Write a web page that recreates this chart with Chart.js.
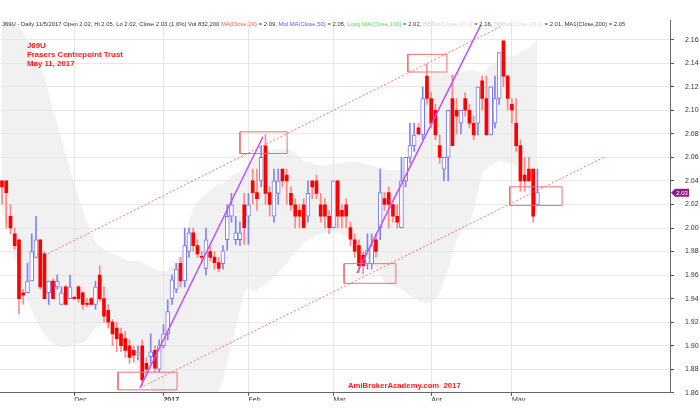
<!doctype html>
<html>
<head>
<meta charset="UTF-8">
<title>J69U</title>
<script src="https://cdn.jsdelivr.net/npm/chart.js@4.4.0/dist/chart.umd.min.js"></script>
<style>
  body { margin: 0; background: #fff; }
  canvas { display: block; }
</style>
</head>
<body>
<canvas id="chart" width="700" height="408"></canvas>
<script>
// bar 0 = 8 Nov 2016 ... bar 126 = 11 May 2017 (trading days only)
var monthTicks = [17, 38, 58, 78, 101, 120]
var monthLabels = ['Dec', '2017', 'Feb', 'Mar', 'Apr', 'May']
var priceTicks = [1.86, 1.88, 1.90, 1.92, 1.94, 1.96, 1.98, 2.00, 2.02, 2.04, 2.06, 2.08, 2.10, 2.12, 2.14, 2.16]

var opens = [2.04, 2.04, 2.01, 1.995, 1.99, 1.945, 1.945, 1.955, 1.975, 1.99,
  1.978, 1.945, 1.955, 1.95, 1.935, 1.95, 1.94, 1.941, 1.95, 1.945,
  1.936, 1.94, 1.935, 1.96, 1.94, 1.93, 1.92, 1.915, 1.91, 1.906,
  1.90, 1.896, 1.893, 1.90, 1.885, 1.8906, 1.896, 1.88, 1.90, 1.91,
  1.94, 1.948, 1.97, 1.955, 1.98, 1.996, 1.985, 1.976, 1.9656, 1.98,
  1.9753, 1.9706, 1.9697, 1.99, 2.01, 1.99, 1.99, 2.0197, 2.01, 2.04,
  2.03, 2.04, 2.0697, 2.03, 2.01, 2.0294, 2.05, 2.045, 2.0294, 2.0197,
  2.015, 2.0197, 2.01, 2.04, 2.04, 2.0197, 2.0197, 2.01, 2.0003, 2.04,
  2.015, 2.0197, 2.0003, 1.99, 1.985, 1.977, 1.9697, 1.9697, 1.99, 2.0003,
  2.025, 2.03, 2.02, 2.01, 2.0003, 2.04, 2.06, 2.07, 2.085, 2.079,
  2.129, 2.11, 2.10, 2.07, 2.05, 2.06, 2.11, 2.10, 2.089, 2.11,
  2.10, 2.089, 2.089, 2.125, 2.11, 2.079, 2.089, 2.11, 2.159, 2.129,
  2.105, 2.089, 2.07, 2.045, 2.05, 2.05, 2.02]
var highs = [2.04, 2.04, 2.02, 2.00, 1.99, 1.948, 1.97, 1.995, 2.01, 1.99,
  1.98, 1.955, 1.957, 1.96, 1.95, 1.951, 1.96, 1.942, 1.951, 1.946,
  1.94, 1.941, 1.955, 1.968, 1.95, 1.935, 1.922, 1.92, 1.915, 1.912,
  1.905, 1.90, 1.90, 1.905, 1.89, 1.91, 1.90, 1.905, 1.918, 1.939,
  1.96, 1.97, 1.975, 2.00, 2.00, 2.00, 1.99, 1.98, 2.00, 1.985,
  1.98, 1.975, 1.985, 2.0197, 2.0294, 2.01, 2.005, 2.0294, 2.0294, 2.05,
  2.05, 2.07, 2.0794, 2.035, 2.05, 2.05, 2.05, 2.05, 2.035, 2.025,
  2.02, 2.025, 2.04, 2.04, 2.045, 2.0294, 2.025, 2.015, 2.04, 2.04,
  2.02, 2.025, 2.005, 1.995, 1.99, 1.98, 1.995, 1.995, 1.995, 2.05,
  2.03, 2.035, 2.02, 2.02, 2.06, 2.06, 2.089, 2.089, 2.089, 2.12,
  2.139, 2.115, 2.105, 2.079, 2.06, 2.10, 2.13, 2.11, 2.10, 2.115,
  2.105, 2.095, 2.12, 2.129, 2.129, 2.12, 2.129, 2.149, 2.159, 2.13,
  2.11, 2.11, 2.075, 2.06, 2.06, 2.05, 2.05]
var lows = [2.02, 2.00, 1.995, 1.982, 1.927, 1.935, 1.945, 1.955, 1.975, 1.948,
  1.94, 1.935, 1.94, 1.948, 1.935, 1.935, 1.94, 1.939, 1.937, 1.931,
  1.933, 1.935, 1.931, 1.938, 1.92, 1.915, 1.90, 1.895, 1.895, 1.89,
  1.885, 1.886, 1.888, 1.866, 1.875, 1.885, 1.878, 1.878, 1.898, 1.905,
  1.935, 1.945, 1.95, 1.95, 1.975, 1.98, 1.975, 1.97, 1.96, 1.972,
  1.965, 1.963, 1.965, 1.981, 2.005, 1.986, 1.985, 1.986, 1.986, 2.02,
  2.015, 2.035, 2.02, 2.01, 2.005, 2.02, 2.035, 2.02, 2.015, 2.00,
  2.00, 2.00, 2.005, 2.025, 2.025, 2.005, 2.00, 1.995, 2.00, 2.00,
  2.00, 2.00, 1.985, 1.975, 1.962, 1.961, 1.965, 1.965, 1.975, 1.99,
  2.015, 2.00, 2.005, 2.00, 2.00, 2.035, 2.055, 2.065, 2.079, 2.075,
  2.105, 2.085, 2.075, 2.055, 2.04, 2.04, 2.07, 2.08, 2.08, 2.095,
  2.085, 2.075, 2.079, 2.10, 2.079, 2.079, 2.085, 2.105, 2.12, 2.10,
  2.089, 2.065, 2.031, 2.031, 2.04, 2.005, 2.02]
var closes = [2.035, 2.03, 2.00, 1.985, 1.94, 1.943, 1.955, 1.98, 1.99, 1.95,
  1.94, 1.955, 1.94, 1.955, 1.945, 1.935, 1.95, 1.94, 1.94, 1.935,
  1.935, 1.935, 1.95, 1.94, 1.925, 1.92, 1.91, 1.906, 1.90, 1.896,
  1.89, 1.892, 1.894, 1.871, 1.88, 1.8947, 1.881, 1.90, 1.91, 1.929,
  1.956, 1.965, 1.955, 1.985, 1.996, 1.985, 1.978, 1.975, 1.99, 1.975,
  1.9706, 1.9656, 1.9806, 2.01, 2.0197, 1.996, 1.996, 2.0003, 2.0197, 2.03,
  2.025, 2.06, 2.0294, 2.02, 2.04, 2.04, 2.04, 2.04, 2.0197, 2.01,
  2.01, 2.0003, 2.0294, 2.035, 2.0294, 2.01, 2.01, 2.0003, 2.04, 2.01,
  2.01, 2.01, 1.9906, 1.98, 1.968, 1.968, 1.9808, 1.985, 1.98, 2.03,
  2.02, 2.02, 2.01, 2.005, 2.04, 2.06, 2.07, 2.079, 2.08, 2.11,
  2.11, 2.089, 2.079, 2.06, 2.06, 2.10, 2.07, 2.095, 2.10, 2.10,
  2.089, 2.079, 2.12, 2.11, 2.079, 2.12, 2.11, 2.149, 2.129, 2.11,
  2.10, 2.07, 2.04, 2.04, 2.04, 2.01, 2.03]

// Bollinger bands (20,2)
var bbTop = [2.176, 2.175, 2.174, 2.172, 2.170, 2.166, 2.160, 2.153, 2.145, 2.137,
  2.128, 2.115, 2.100, 2.089, 2.075, 2.063, 2.050, 2.038, 2.026, 2.016,
  2.005, 1.996, 1.988, 1.985, 1.982, 1.979, 1.978, 1.977, 1.975, 1.973,
  1.972, 1.972, 1.972, 1.971, 1.969, 1.967, 1.965, 1.964, 1.963, 1.964,
  1.967, 1.971, 1.978, 1.990, 2.005, 2.016, 2.022, 2.026, 2.029, 2.032,
  2.035, 2.037, 2.038, 2.041, 2.044, 2.046, 2.048, 2.052, 2.054, 2.057,
  2.059, 2.061, 2.064, 2.066, 2.067, 2.067, 2.067, 2.067, 2.066, 2.063,
  2.060, 2.057, 2.056, 2.055, 2.054, 2.053, 2.053, 2.054, 2.054, 2.055,
  2.055, 2.056, 2.056, 2.056, 2.056, 2.055, 2.054, 2.053, 2.052, 2.051,
  2.050, 2.049, 2.049, 2.049, 2.050, 2.051, 2.055, 2.065, 2.077, 2.100,
  2.115, 2.128, 2.131, 2.131, 2.131, 2.131, 2.132, 2.132, 2.133, 2.133,
  2.134, 2.134, 2.133, 2.132, 2.135, 2.138, 2.140, 2.142, 2.144, 2.146,
  2.146, 2.147, 2.149, 2.151, 2.153, 2.156, 2.160]
var bbBot = [2.013, 2.005, 1.990, 1.975, 1.962, 1.950, 1.940, 1.930, 1.922, 1.915,
  1.910, 1.905, 1.902, 1.900, 1.899, 1.899, 1.900, 1.901, 1.902, 1.903,
  1.905, 1.910, 1.915, 1.917, 1.918, 1.916, 1.912, 1.908, 1.904, 1.899,
  1.893, 1.887, 1.880, 1.876, 1.870, 1.864, 1.855, 1.845, 1.835, 1.828,
  1.822, 1.820, 1.818, 1.818, 1.820, 1.822, 1.826, 1.830, 1.835, 1.842,
  1.850, 1.862, 1.872, 1.885, 1.900, 1.915, 1.930, 1.945, 1.948, 1.947,
  1.947, 1.950, 1.952, 1.955, 1.958, 1.962, 1.966, 1.970, 1.975, 1.979,
  1.983, 1.987, 1.990, 1.992, 1.994, 1.995, 1.996, 1.996, 1.996, 1.996,
  1.995, 1.993, 1.990, 1.988, 1.985, 1.980, 1.975, 1.970, 1.965, 1.960,
  1.955, 1.952, 1.950, 1.949, 1.948, 1.945, 1.942, 1.940, 1.938, 1.937,
  1.936, 1.937, 1.940, 1.945, 1.955, 1.965, 1.978, 1.990, 1.996, 2.000,
  2.005, 2.015, 2.030, 2.046, 2.050, 2.053, 2.055, 2.057, 2.056, 2.055,
  2.054, 2.052, 2.048, 2.040, 2.030, 2.020, 2.010]

// hand drawn study lines: [bar, price] pairs
var trendUp1 = [[32.47, 1.8642], [61.41, 2.0775]]
var trendUp2 = [[83.53, 1.9617], [112.7, 2.1725]]
var channelTop = [[10.82, 1.9783], [117.65, 2.1717]]
var channelBot = [[32.47, 1.8642], [141.9, 2.0605]]
// boxes: [bar from, bar to, price low, price high]
var boxes = [[27.3, 41.2, 1.8625, 1.8775], [56.0, 67.1, 2.0633, 2.0817], [80.5, 92.7, 1.953, 1.9697],
  [95.5, 104.7, 2.1325, 2.1475], [119.5, 131.8, 2.0192, 2.035]]

var FONT = '"Liberation Sans", Arial, sans-serif'

var upBodies = [], downBodies = [], upWicks = [], downWicks = []
for (var i = 0; i < closes.length; i++) {
  var body = {x: i, y: [opens[i], closes[i]]}
  var wick = {x: i, y: [lows[i], highs[i]]}
  if (closes[i] > opens[i]) {
    upBodies.push(body); upWicks.push(wick)
  } else {
    downBodies.push(body); downWicks.push(wick)
  }
}

function pts(list) {
  return list.map(function(p) { return {x: p[0], y: p[1]} })
}
function lineSet(data, color, width, dash) {
  return {type: 'line', data: pts(data), borderColor: color, borderWidth: width,
    borderDash: dash || [], pointRadius: 0, fill: false, tension: 0, order: 0}
}

var datasets = [
  {label: 'up', data: upBodies, backgroundColor: '#ffffff', borderColor: '#7878f0', borderWidth: 1,
    borderSkipped: false, barThickness: 4, grouped: false, order: 1},
  {label: 'down', data: downBodies, backgroundColor: '#ff0000', borderWidth: 0,
    barThickness: 3, grouped: false, order: 1},
  {label: 'upWick', data: upWicks, backgroundColor: 'rgba(110,110,240,0.85)', borderWidth: 0,
    barThickness: 1, grouped: false, order: 2},
  {label: 'downWick', data: downWicks, backgroundColor: 'rgba(255,90,90,0.7)', borderWidth: 0,
    barThickness: 1, grouped: false, order: 2},
  {type: 'line', label: 'bbTop', data: bbTop.map(function(v, i) { return {x: i, y: v} }),
    borderWidth: 0, pointRadius: 0, cubicInterpolationMode: 'monotone',
    backgroundColor: '#f1f1f1', fill: '+1', order: 5},
  {type: 'line', label: 'bbBot', data: bbBot.map(function(v, i) { return {x: i, y: v} }),
    borderWidth: 0, pointRadius: 0, cubicInterpolationMode: 'monotone', fill: false, order: 5},
  lineSet(channelTop, '#ff7070', 1, [2, 2]),
  lineSet(channelBot, '#ff7070', 1, [2, 2]),
  lineSet(trendUp1, '#c050ff', 1.5),
  lineSet(trendUp2, '#c050ff', 1.5)
]
boxes.forEach(function(b) {
  datasets.push(lineSet([[b[0], b[2]], [b[1], b[2]], [b[1], b[3]], [b[0], b[3]], [b[0], b[2]]], '#f07070', 1))
})

function fitSize(ctx, text, width, weight) {
  ctx.font = weight + ' 20px ' + FONT
  return 20 * width / ctx.measureText(text).width
}

var overlayText = {
  id: 'overlayText',
  afterDraw: function(chart) {
    var ctx = chart.ctx
    ctx.save()
    ctx.textBaseline = 'middle'
    ctx.textAlign = 'left'

    var parts = [
      ['J69U - Daily 11/5/2017 Open 2.02, Hi 2.05, Lo 2.02, Close 2.03 (1.0%) Vol 832,200 ', '#333333'],
      ['MA(Close,20)', '#ff5a5a'], [' = 2.09, ', '#333333'],
      ['Mid MA(Close,50)', '#5a5aff'], [' = 2.05, ', '#333333'],
      ['Long MA(Close,100)', '#44ee44'], [' = 2.02, ', '#333333'],
      ['BBTop(Close,20,2)', '#d4d4d4'], [' = 2.16, ', '#333333'],
      ['BBBot(Close,20,2)', '#d4d4d4'], [' = 2.01, MA1(Close,200) = 2.05', '#333333']
    ]
    var whole = parts.map(function(p) { return p[0] }).join('')
    var size = fitSize(ctx, whole, 624, 'normal')
    ctx.font = size + 'px ' + FONT
    var x = 2
    parts.forEach(function(p) {
      ctx.fillStyle = p[1]
      ctx.fillText(p[0], x, 24)
      x += ctx.measureText(p[0]).width
    })

    var tsize = fitSize(ctx, 'Frasers Centrepoint Trust', 96, 'bold')
    ctx.font = 'bold ' + tsize + 'px ' + FONT
    ctx.fillStyle = '#ff1a1a'
    ctx.fillText('J69U', 27, 46)
    ctx.fillText('Frasers Centrepoint Trust', 27, 55)
    ctx.fillText('May 11, 2017', 27, 64)

    var wsize = fitSize(ctx, 'AmiBrokerAcademy.com  2017', 113, 'bold')
    ctx.font = 'bold ' + wsize + 'px ' + FONT
    ctx.fillText('AmiBrokerAcademy.com  2017', 348, 386)

    // last price marker on the price axis
    var last = closes[closes.length - 1]
    var y = chart.scales.y.getPixelForValue(last)
    ctx.fillStyle = '#8c1f8c'
    ctx.beginPath()
    ctx.moveTo(671, y)
    ctx.lineTo(675, y - 4)
    ctx.lineTo(689, y - 4)
    ctx.lineTo(689, y + 4)
    ctx.lineTo(675, y + 4)
    ctx.closePath()
    ctx.fill()
    ctx.fillStyle = '#ffffff'
    ctx.font = '6px ' + FONT
    ctx.textAlign = 'center'
    ctx.fillText(last.toFixed(2), 682, y + 0.5)
    ctx.restore()
  }
}

new Chart(document.getElementById('chart'), {
  type: 'bar',
  data: {datasets: datasets},
  plugins: [overlayText],
  options: {
    responsive: false,
    animation: false,
    devicePixelRatio: 1,
    layout: {padding: {top: 20, left: 0, right: 0, bottom: 0}},
    plugins: {
      legend: {display: false},
      tooltip: {enabled: false},
      filler: {drawTime: 'beforeDraw'}
    },
    scales: {
      x: {
        type: 'linear',
        min: -0.47,
        max: 157.2,
        offset: false,
        grid: {offset: false, color: '#e6e6e6', tickLength: 3, tickColor: '#555'},
        border: {color: '#666'},
        afterBuildTicks: function(s) { s.ticks = monthTicks.map(function(v) { return {value: v} }) },
        afterFit: function(s) { s.height = 8 },
        ticks: {
          autoSkip: false, maxRotation: 0, align: 'start', padding: 0, color: '#333',
          font: function(c) { return {family: FONT, size: 7, weight: c.tick && c.tick.label === '2017' ? 'bold' : 'normal'} },
          callback: function(v) { return monthLabels[monthTicks.indexOf(v)] }
        }
      },
      y: {
        position: 'right',
        min: 1.86,
        max: 2.1767,
        grid: {color: '#e8e8e8', tickLength: 4, tickColor: '#555'},
        border: {color: '#666'},
        afterBuildTicks: function(s) { s.ticks = priceTicks.map(function(v) { return {value: v} }) },
        afterFit: function(s) { s.width = 30 },
        ticks: {
          padding: 11, color: '#333', font: {family: FONT, size: 7},
          callback: function(v) { return v.toFixed(2) }
        }
      }
    }
  }
})
</script>
</body>
</html>
